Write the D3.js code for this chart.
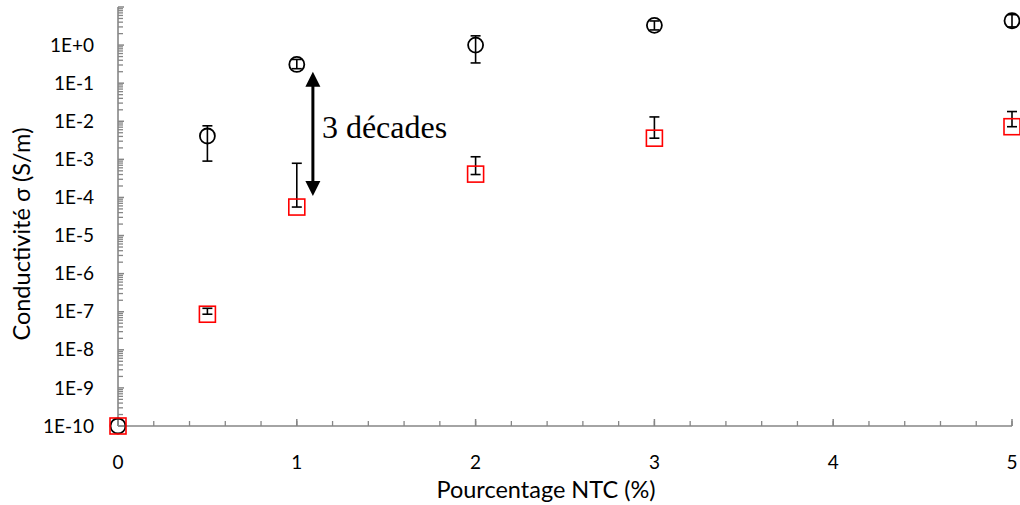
<!DOCTYPE html>
<html><head><meta charset="utf-8">
<script src="https://cdn.jsdelivr.net/npm/d3@7"></script>
<style>html,body{margin:0;padding:0;background:#fff;}svg{display:block;}</style>
</head><body>
<script>
// Data
const xPct = [0, 0.5, 1, 2, 3, 5];
const circleVals = [1e-10, 4.1e-3, 0.31, 1.0, 3.3, 4.35];
const circleLow  = [1e-10, 9.0e-4, 0.24, 0.34, 2.5, 3.0];
const circleHigh = [1e-10, 7.6e-3, 0.42, 1.75, 4.3, 6.3];
const squareVals = [1e-10, 8.6e-8, 5.6e-5, 4.1e-4, 3.6e-3, 7.2e-3];
const squareLow  = [1e-10, 8.6e-8, 5.6e-5, 4.0e-4, 3.6e-3, 7.2e-3];
const squareHigh = [1e-10, 1.23e-7, 7.9e-4, 1.17e-3, 1.3e-2, 1.8e-2];
const xTicks = [0, 1, 2, 3, 4, 5];
const yTickExps = [0, -1, -2, -3, -4, -5, -6, -7, -8, -9, -10];
const yTickLabels = ["1E+0","1E-1","1E-2","1E-3","1E-4","1E-5","1E-6","1E-7","1E-8","1E-9","1E-10"];
const xTitle = "Pourcentage NTC (%)";
const yTitle = "Conductivité σ (S/m)";
const annotText = "3 décades";
const arrowTop = 0.2, arrowBottom = 1.1e-4, arrowX = 1.09;

const W = 1020, H = 505;
const svg = d3.select("body").append("svg").attr("width", W).attr("height", H);
const x = d3.scaleLinear().domain([0, 5]).range([118, 1012]);
const y = d3.scaleLog().domain([1e-10, 10]).range([426, 7]);
const axisColor = "#868686";

// minor y ticks
const yMinor = [];
for (let e = -10; e < 1; e++) for (let m = 2; m <= 9; m++) yMinor.push(m * Math.pow(10, e));
const g = svg.append("g");
g.selectAll(".ymin").data(yMinor).enter().append("line")
  .attr("x1", x(0)).attr("x2", x(0) + 5)
  .attr("y1", d => y(d)).attr("y2", d => y(d))
  .attr("stroke", axisColor).attr("stroke-width", 1.3);
g.selectAll(".ymaj").data(yTickExps.concat([1])).enter().append("line")
  .attr("x1", x(0)).attr("x2", x(0) + 6)
  .attr("y1", d => y(Math.pow(10, d))).attr("y2", d => y(Math.pow(10, d)))
  .attr("stroke", axisColor).attr("stroke-width", 1.5);
// minor x ticks
const xMinor = d3.range(0, 5.001, 0.2);
g.selectAll(".xmin").data(xMinor).enter().append("line")
  .attr("x1", d => x(d)).attr("x2", d => x(d))
  .attr("y1", y(1e-10)).attr("y2", y(1e-10) - 5)
  .attr("stroke", axisColor).attr("stroke-width", 1.3);
g.selectAll(".xmaj").data(xTicks).enter().append("line")
  .attr("x1", d => x(d)).attr("x2", d => x(d))
  .attr("y1", y(1e-10)).attr("y2", y(1e-10) - 7)
  .attr("stroke", axisColor).attr("stroke-width", 1.5);
// axis lines
g.append("line").attr("x1", x(0)).attr("x2", x(0)).attr("y1", y(10)).attr("y2", y(1e-10))
  .attr("stroke", axisColor).attr("stroke-width", 1.6);
g.append("line").attr("x1", x(0)).attr("x2", x(5)).attr("y1", y(1e-10)).attr("y2", y(1e-10))
  .attr("stroke", axisColor).attr("stroke-width", 1.6);

// tick labels
const tickFont = "Lato, 'Open Sans', sans-serif";
svg.selectAll(".ylab").data(yTickExps).enter().append("text")
  .attr("x", 94).attr("y", d => y(Math.pow(10, d))).attr("dy", "0.35em")
  .attr("text-anchor", "end").attr("font-family", tickFont).attr("font-size", 19)
  .attr("fill", "#000").text((d, i) => yTickLabels[i]);
svg.selectAll(".xlab").data(xTicks).enter().append("text")
  .attr("x", d => x(d)).attr("y", 462).attr("dy", "0.35em")
  .attr("text-anchor", "middle").attr("font-family", tickFont).attr("font-size", 19)
  .attr("fill", "#000").text(d => d);
// titles
svg.append("text").attr("x", 546).attr("y", 498).attr("text-anchor", "middle")
  .attr("font-family", tickFont).attr("font-size", 23.5).text(xTitle);
svg.append("text").attr("transform", "translate(30,234) rotate(-90)").attr("text-anchor", "middle")
  .attr("font-family", tickFont).attr("font-size", 23.5).text(yTitle);

// error bars
function errBars(low, high, cls) {
  const idx = d3.range(xPct.length).filter(i => high[i] > low[i]);
  const eg = svg.append("g").attr("stroke", "#000").attr("stroke-width", 1.6);
  eg.selectAll("." + cls + "v").data(idx).enter().append("line")
    .attr("x1", i => x(xPct[i])).attr("x2", i => x(xPct[i]))
    .attr("y1", i => y(low[i])).attr("y2", i => y(high[i]));
  eg.selectAll("." + cls + "h").data(idx).enter().append("line")
    .attr("x1", i => x(xPct[i]) - 5).attr("x2", i => x(xPct[i]) + 5)
    .attr("y1", i => y(high[i])).attr("y2", i => y(high[i]));
  eg.selectAll("." + cls + "l").data(idx).enter().append("line")
    .attr("x1", i => x(xPct[i]) - 5).attr("x2", i => x(xPct[i]) + 5)
    .attr("y1", i => y(low[i])).attr("y2", i => y(low[i]));
}
// circles
errBars(circleLow, circleHigh, "c");
svg.append("g").selectAll("circle").data(circleVals).enter().append("circle")
  .attr("cx", (d, i) => x(xPct[i])).attr("cy", d => y(d)).attr("r", 7.5)
  .attr("fill", "none").attr("stroke", "#000").attr("stroke-width", 1.8);
errBars(squareLow, squareHigh, "s");
svg.append("g").selectAll("rect").data(squareVals).enter().append("rect")
  .attr("x", (d, i) => x(xPct[i]) - 8).attr("y", d => y(d) - 8)
  .attr("width", 16).attr("height", 16)
  .attr("fill", "none").attr("stroke", "#ff0000").attr("stroke-width", 1.6);

// annotation arrow
const ax = x(arrowX), yt = y(arrowTop), yb = y(arrowBottom);
const ah = 15, aw = 7.5;
svg.append("line").attr("x1", ax).attr("x2", ax).attr("y1", yt + ah - 2).attr("y2", yb - ah + 2)
  .attr("stroke", "#000").attr("stroke-width", 3);
svg.append("path").attr("d", `M${ax},${yt} L${ax - aw},${yt + ah} L${ax + aw},${yt + ah} Z`).attr("fill", "#000");
svg.append("path").attr("d", `M${ax},${yb} L${ax - aw},${yb - ah} L${ax + aw},${yb - ah} Z`).attr("fill", "#000");
svg.append("text").attr("x", ax + 9).attr("y", 138)
  .attr("font-family", "'Liberation Serif', 'Times New Roman', serif").attr("font-size", 32)
  .text(annotText);
</script>
</body></html>
